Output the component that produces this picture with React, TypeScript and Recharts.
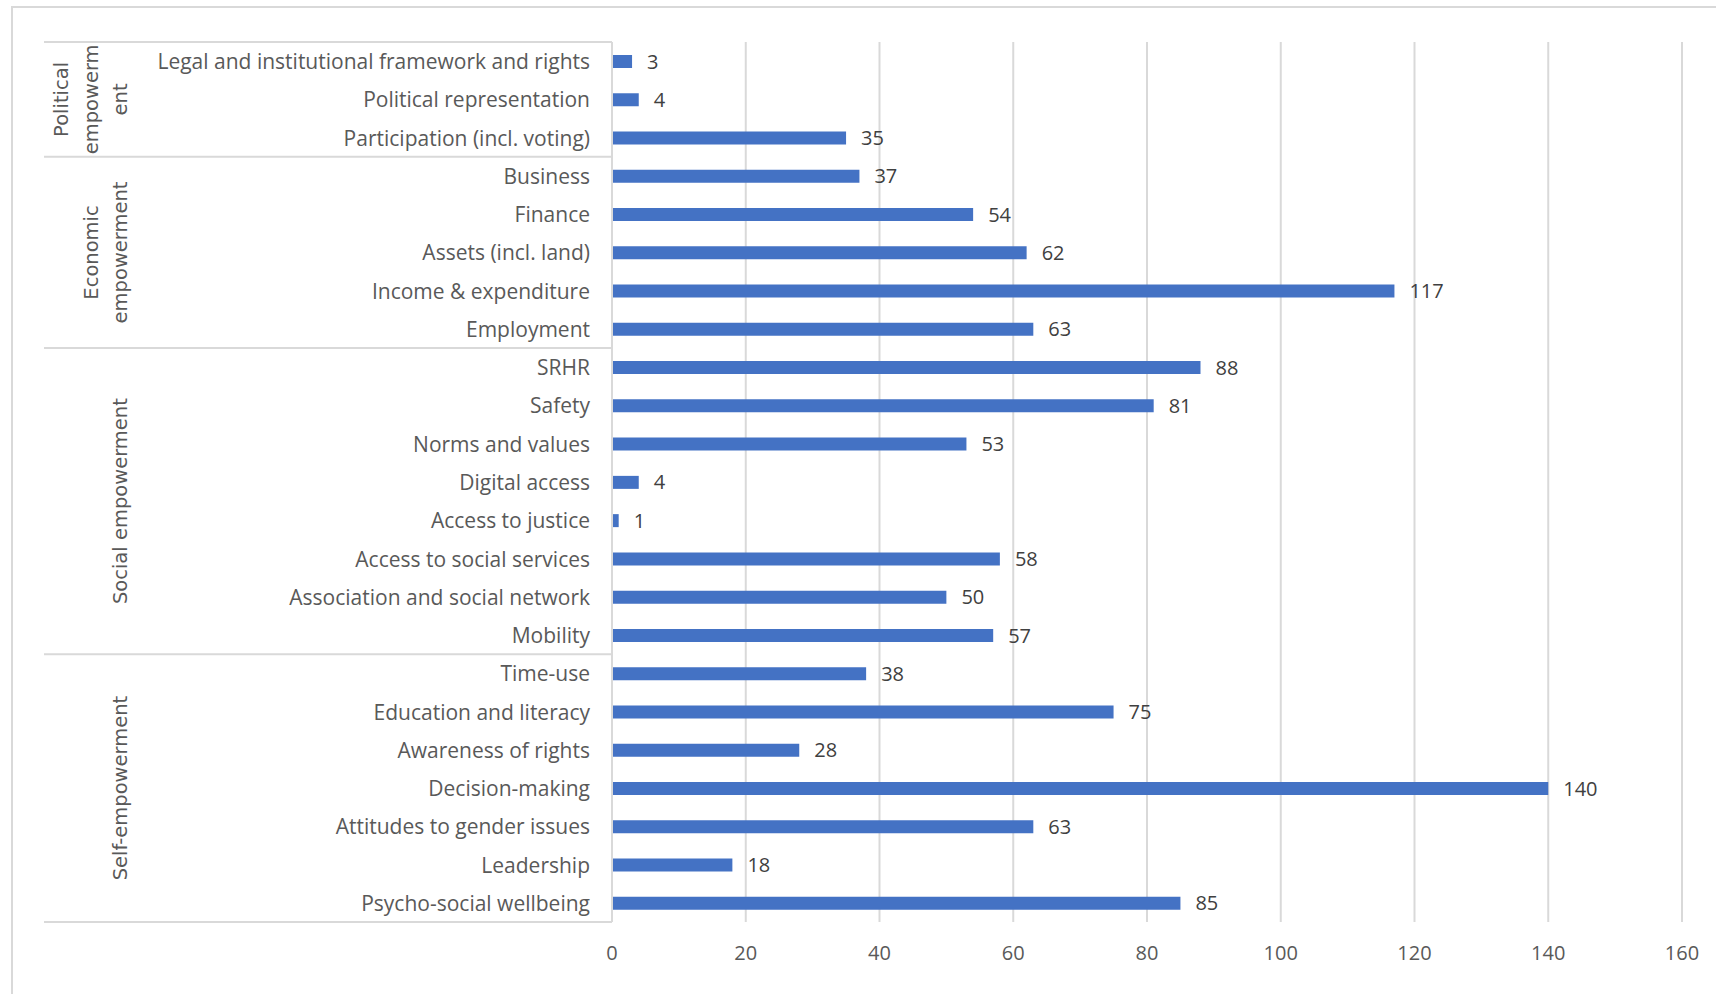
import React from 'react';
import { BarChart, Bar, XAxis, YAxis, CartesianGrid, LabelList } from 'recharts';

const categories = [
  'Legal and institutional framework and rights',
  'Political representation',
  'Participation (incl. voting)',
  'Business',
  'Finance',
  'Assets (incl. land)',
  'Income & expenditure',
  'Employment',
  'SRHR',
  'Safety',
  'Norms and values',
  'Digital access',
  'Access to justice',
  'Access to social services',
  'Association and social network',
  'Mobility',
  'Time-use',
  'Education and literacy',
  'Awareness of rights',
  'Decision-making',
  'Attitudes to gender issues',
  'Leadership',
  'Psycho-social wellbeing',
];

const counts = [3, 4, 35, 37, 54, 62, 117, 63, 88, 81, 53, 4, 1, 58, 50, 57, 38, 75, 28, 140, 63, 18, 85];

const groupLabelLines = [
  ['Political', 'empowerm', 'ent'],
  ['Economic', 'empowerment'],
  ['Social empowerment'],
  ['Self-empowerment'],
];
const groupStarts = [0, 3, 8, 16];
const groupSizes = [3, 5, 8, 7];

const xTicks = [0, 20, 40, 60, 80, 100, 120, 140, 160];

const data = categories.map((name, i) => ({ name, value: counts[i] }));

const LABEL_FONT = '"Open Sans", Lato, sans-serif';
const GROUP_FONT = '"DejaVu Sans", "Open Sans", sans-serif';
const LINE_COLOR = '#d9d9d9';

function CategoryTick(props: any) {
  const { x, y, payload } = props;
  const index: number = typeof props.index === 'number' ? props.index : payload?.index ?? 0;
  const n = categories.length;
  const half =
    typeof payload?.offset === 'number' && payload.offset > 0
      ? payload.offset
      : props.height
      ? props.height / n / 2
      : 19;
  const g = groupStarts.indexOf(index);
  const isLast = index === n - 1;
  let groupEls: React.ReactNode = null;
  if (g >= 0) {
    const lines = groupLabelLines[g];
    const cy = y + (groupSizes[g] - 1) * half;
    groupEls = (
      <g>
        <line x1={44} x2={612} y1={y - half} y2={y - half} stroke={LINE_COLOR} strokeWidth={2} />
        {lines.map((ln, j) => {
          const lx = 121 - (lines.length - 1 - j) * 29.5;
          return (
            <text
              key={j}
              x={lx}
              y={cy}
              transform={`rotate(-90, ${lx}, ${cy})`}
              textAnchor="middle"
              dominantBaseline="central"
              fill="#595959"
              fontSize={19.5}
              fontFamily={GROUP_FONT}
            >
              {ln}
            </text>
          );
        })}
      </g>
    );
  }
  return (
    <g>
      <text
        x={x}
        y={y}
        textAnchor="end"
        dominantBaseline="central"
        fill="#595959"
        fontSize={21}
        fontFamily={LABEL_FONT}
      >
        {payload.value}
      </text>
      {groupEls}
      {isLast && (
        <line x1={44} x2={612} y1={y + half} y2={y + half} stroke={LINE_COLOR} strokeWidth={2} />
      )}
    </g>
  );
}

export default function App() {
  return (
    <div style={{ position: 'absolute', left: 0, top: 0, width: 1716, height: 994, background: '#fff', overflow: 'hidden' }}>
      <div
        style={{
          position: 'absolute',
          left: 11,
          top: 6,
          width: 1800,
          height: 1100,
          borderLeft: '2px solid #d9d9d9',
          borderTop: '2px solid #d9d9d9',
          boxSizing: 'border-box',
        }}
      />
      <div style={{ position: 'absolute', left: 0, top: 0 }}>
        <BarChart
          width={1716}
          height={994}
          data={data}
          layout="vertical"
          margin={{ top: 42, right: 34, bottom: 22, left: 0 }}
          barCategoryGap={0}
        >
          <CartesianGrid horizontal={false} vertical={true} stroke={LINE_COLOR} strokeWidth={2} />
          <XAxis
            type="number"
            domain={[0, 160]}
            ticks={xTicks}
            interval={0}
            axisLine={false}
            tickLine={false}
            height={50}
            tickMargin={18}
            tick={{ fill: '#595959', fontSize: 20, fontFamily: LABEL_FONT }}
          />
          <YAxis
            type="category"
            dataKey="name"
            width={612}
            interval={0}
            tickLine={false}
            tickMargin={16}
            axisLine={{ stroke: LINE_COLOR, strokeWidth: 2 }}
            tick={<CategoryTick />}
          />
          <Bar dataKey="value" fill="#4472C4" barSize={13} isAnimationActive={false}>
            <LabelList
              dataKey="value"
              position="right"
              offset={15}
              fill="#404040"
              fontSize={20}
              fontFamily={LABEL_FONT}
            />
          </Bar>
        </BarChart>
      </div>
    </div>
  );
}
